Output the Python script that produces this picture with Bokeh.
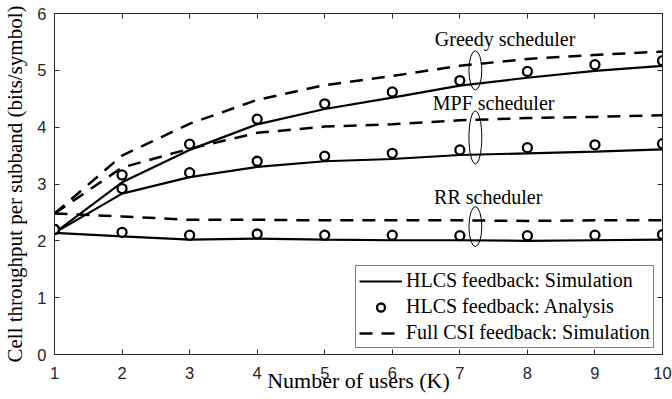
from bokeh.plotting import figure
from bokeh.models import LinearAxis, Range1d, Legend, LegendItem, FixedTicker
from bokeh.core.properties import value
from bokeh.embed import file_html
from bokeh.resources import INLINE

users = [1, 2, 3, 4, 5, 6, 7, 8, 9, 10]

greedy_sim = [2.14, 3.03, 3.60, 4.05, 4.32, 4.52, 4.73, 4.87, 4.99, 5.08]
greedy_ana = [2.20, 3.16, 3.70, 4.14, 4.41, 4.62, 4.82, 4.98, 5.10, 5.17]
greedy_full = [2.48, 3.50, 4.06, 4.48, 4.74, 4.90, 5.08, 5.20, 5.27, 5.33]

mpf_sim = [2.14, 2.83, 3.12, 3.30, 3.40, 3.44, 3.51, 3.54, 3.57, 3.61]
mpf_ana = [2.20, 2.92, 3.20, 3.40, 3.49, 3.54, 3.60, 3.64, 3.69, 3.71]
mpf_full = [2.48, 3.29, 3.62, 3.90, 4.01, 4.05, 4.12, 4.16, 4.18, 4.21]

rr_sim = [2.14, 2.08, 2.02, 2.04, 2.02, 2.01, 2.01, 2.00, 2.01, 2.02]
rr_ana = [2.20, 2.15, 2.10, 2.12, 2.10, 2.10, 2.09, 2.09, 2.10, 2.11]
rr_full = [2.48, 2.43, 2.37, 2.37, 2.36, 2.36, 2.36, 2.35, 2.36, 2.36]

x_ticks = [1, 2, 3, 4, 5, 6, 7, 8, 9, 10]
y_ticks = [0, 1, 2, 3, 4, 5, 6]

ann_text = ["Greedy scheduler", "MPF scheduler", "RR scheduler"]
ann_text_x = [7.67, 7.50, 7.42]
ann_text_y = [5.56, 4.42, 2.78]
ell_x = [7.23, 7.23, 7.23]
ell_y = [5.00, 3.82, 2.25]
ell_w = [0.19, 0.19, 0.19]
ell_h = [0.69, 0.93, 0.70]

SERIF = "Liberation Serif"
SANS = "Liberation Sans"
AXC = "#262626"

p = figure(width=672, height=399, output_backend="svg", toolbar_location=None,
           x_range=Range1d(1, 10), y_range=Range1d(0, 6),
           min_border_left=52, min_border_right=10, min_border_top=13, min_border_bottom=45)
p.xgrid.visible = False
p.ygrid.visible = False
p.outline_line_color = AXC
p.background_fill_color = "white"
p.border_fill_color = "white"

for ax in p.xaxis:
    ax.ticker = FixedTicker(ticks=x_ticks)
for ax in p.yaxis:
    ax.ticker = FixedTicker(ticks=y_ticks)

p.xaxis.axis_label = "Number of users (K)"
p.yaxis.axis_label = "Cell throughput per subband (bits/symbol)"
for ax in [p.xaxis[0], p.yaxis[0]]:
    ax.axis_label_text_font = SERIF
    ax.axis_label_text_font_style = "normal"
    ax.axis_label_text_color = "black"
    ax.major_label_text_font = SANS
    ax.major_label_text_font_size = "16.5px"
    ax.major_label_text_color = AXC
    ax.major_tick_in = 5
    ax.major_tick_out = 0
    ax.minor_tick_in = 0
    ax.minor_tick_out = 0
    ax.axis_line_color = AXC
    ax.major_tick_line_color = AXC
p.xaxis.axis_label_text_font_size = "22px"
p.yaxis.axis_label_text_font_size = "21px"
p.xaxis.major_label_standoff = 12
p.yaxis.major_label_standoff = 8
p.xaxis.axis_label_standoff = -14
p.yaxis.axis_label_standoff = 7

top_ax = LinearAxis(ticker=FixedTicker(ticks=x_ticks),
                    major_label_overrides={t: "" for t in x_ticks},
                    major_tick_in=5, major_tick_out=0, minor_tick_in=0, minor_tick_out=0,
                    major_label_standoff=0, axis_line_color=AXC, major_tick_line_color=AXC)
right_ax = LinearAxis(ticker=FixedTicker(ticks=y_ticks),
                      major_label_overrides={t: "" for t in y_ticks},
                      major_tick_in=5, major_tick_out=0, minor_tick_in=0, minor_tick_out=0,
                      major_label_standoff=0, axis_line_color=AXC, major_tick_line_color=AXC)
p.add_layout(top_ax, "above")
p.add_layout(right_ax, "right")

DASH = "13 9"
sims, anas, fulls = [], [], []
for sim, ana, full in [(greedy_sim, greedy_ana, greedy_full),
                       (mpf_sim, mpf_ana, mpf_full),
                       (rr_sim, rr_ana, rr_full)]:
    fulls.append(p.line(users, full, line_color="black", line_width=2.5, line_dash=DASH))
    sims.append(p.line(users, sim, line_color="black", line_width=2.2))
    anas.append(p.scatter(users, ana, marker="circle", size=9, line_color="black",
                          line_width=2.3, fill_color="white"))

p.ellipse(x=ell_x, y=ell_y, width=ell_w, height=ell_h, fill_color=None,
          line_color="black", line_width=1)
p.text(x=ann_text_x, y=ann_text_y, text=ann_text, text_font=value(SERIF),
       text_font_size=value("20px"), text_align="center", text_baseline="middle",
       text_color="black")

legend = Legend(items=[
    LegendItem(label="HLCS feedback: Simulation", renderers=[sims[0]]),
    LegendItem(label="HLCS feedback: Analysis", renderers=[anas[0]]),
    LegendItem(label="Full CSI feedback: Simulation", renderers=[fulls[0]]),
], location=(301, 6))
legend.label_text_font = SERIF
legend.label_text_font_size = "20px"
legend.label_text_color = "black"
legend.glyph_width = 43
legend.glyph_height = 20
legend.label_height = 20
legend.spacing = 3
legend.padding = 3
legend.label_standoff = 4
legend.margin = 0
legend.border_line_color = "black"
legend.border_line_width = 1
legend.background_fill_color = "white"
legend.background_fill_alpha = 1
p.add_layout(legend, "center")

open("out.html", "w").write(file_html(p, INLINE))
